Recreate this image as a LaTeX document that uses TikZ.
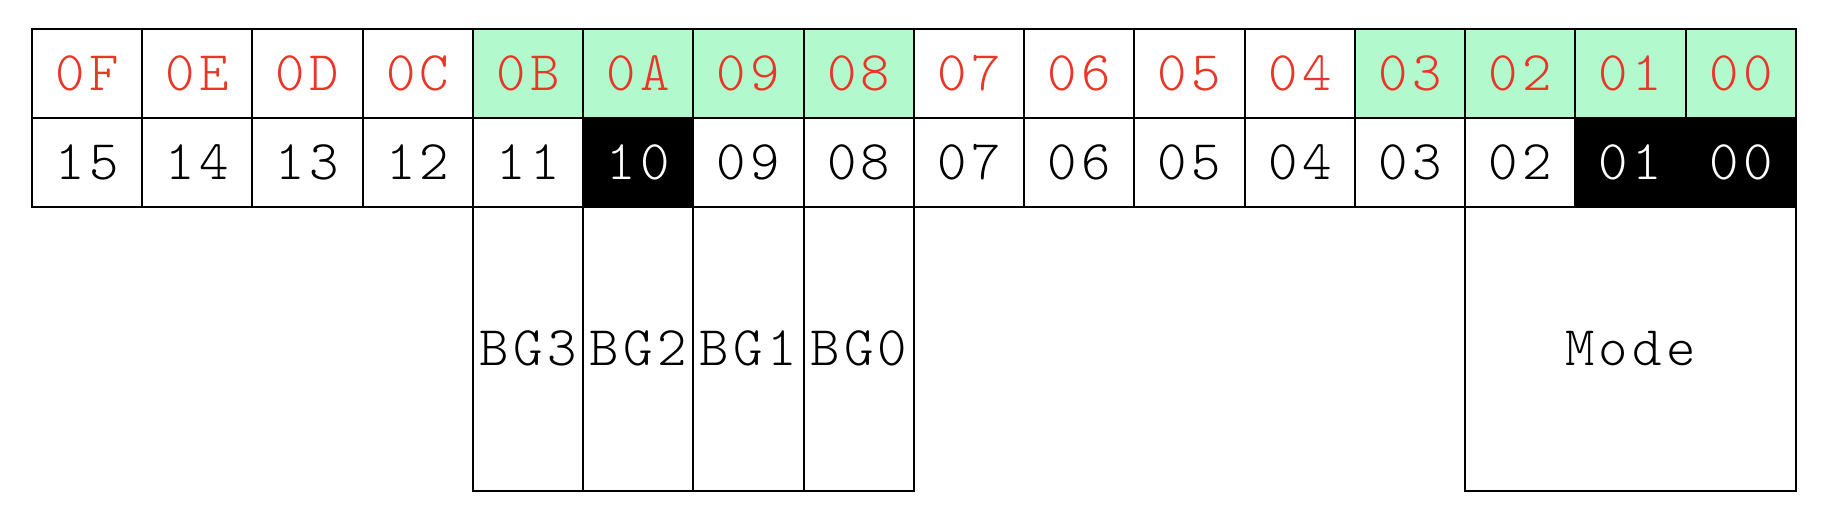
\documentclass[tikz,border=0pt]{standalone}
\usepackage{fontspec}
\setmonofont{lmmonolt10-regular.otf}[LetterSpace=8]
\definecolor{hexred}{RGB}{233,54,40}
\definecolor{mint}{RGB}{178,250,206}
\begin{document}
\begin{tikzpicture}[x=0.5pt,y=-0.5pt,
  cell/.style={draw, line width=1pt, minimum width=55.14pt, minimum height=44.4pt,
    inner sep=0pt, outer sep=0pt, font=\ttfamily\fontsize{28}{30}\selectfont},
  lowbox/.style={cell, minimum height=141.9pt, fill=white, text=black}]
\useasboundingbox (0,0) rectangle (1830,510);
\foreach \lab/\fc [count=\i from 0] in {0F/white,0E/white,0D/white,0C/white,0B/mint,0A/mint,09/mint,08/mint,07/white,06/white,05/white,04/white,03/mint,02/mint,01/mint,00/mint}{
  \pgfmathsetmacro\cx{31.7+(\i+0.5)*110.27}
  \node[cell, fill=\fc, text=hexred] (t\i) at (\cx,73.35) {\lab};
}
\foreach \lab/\fc/\tc [count=\i from 0] in {15/white/black,14/white/black,13/white/black,12/white/black,11/white/black,10/black/white,09/white/black,08/white/black,07/white/black,06/white/black,05/white/black,04/white/black,03/white/black,02/white/black,01/black/white,00/black/white}{
  \pgfmathsetmacro\cx{31.7+(\i+0.5)*110.27}
  \node[cell, fill=\fc, text=\tc] (b\i) at (\cx,162.2) {\lab};
}
\node[lowbox] (bg3) at (527.9,348.6) {BG3};
\node[lowbox] (bg2) at (638.2,348.6) {BG2};
\node[lowbox] (bg1) at (748.5,348.6) {BG1};
\node[lowbox] (bg0) at (858.8,348.6) {BG0};
\node[lowbox, minimum width=165.4pt] (mode) at (1630.6,348.6) {Mode};
\end{tikzpicture}
\end{document}
